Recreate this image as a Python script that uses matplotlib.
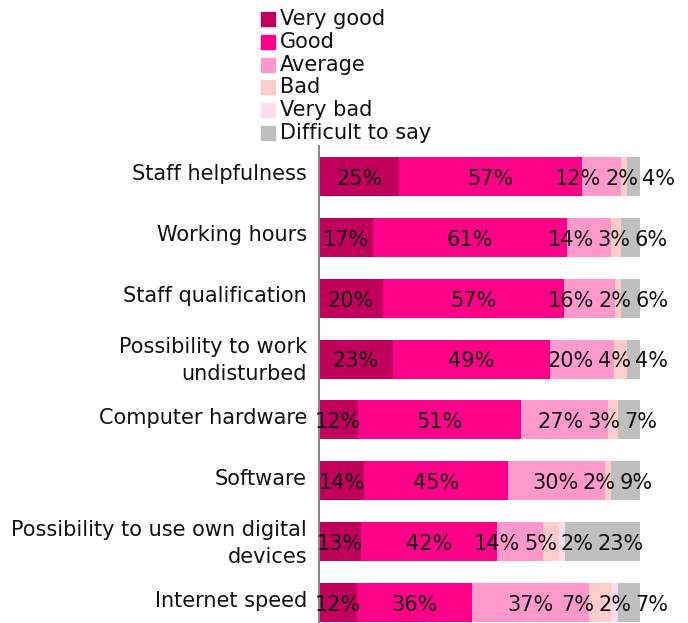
import matplotlib
matplotlib.use("Agg")
import matplotlib.pyplot as plt
from matplotlib.patches import Rectangle
from matplotlib.transforms import ScaledTranslation
import numpy as np

categories = [
    "Staff helpfulness",
    "Working hours",
    "Staff qualification",
    "Possibility to work\nundisturbed",
    "Computer hardware",
    "Software",
    "Possibility to use own digital\ndevices",
    "Internet speed",
]
series_names = ["Very good", "Good", "Average", "Bad", "Very bad", "Difficult to say"]
very_good = [25, 17, 20, 23, 12, 14, 13, 12]
good = [57, 61, 57, 49, 51, 45, 42, 36]
average = [12, 14, 16, 20, 27, 30, 14, 37]
bad = [2, 3, 2, 4, 3, 2, 5, 7]
very_bad = [0, 0, 0, 0, 0, 0, 2, 2]
difficult = [4, 6, 6, 4, 7, 9, 23, 7]
colors = ["#C0005C", "#FF0088", "#FF99CC", "#FFCCCC", "#FFDDEE", "#BFBFBF"]

plt.rcParams['font.family'] = ['DejaVu Sans']
FS = 15

W, H = 688, 623
fig = plt.figure(figsize=(W / 100, H / 100), dpi=100)
ax_top_px, ax_bot_px = 146, 633
ax = fig.add_axes([319 / W, 1 - ax_bot_px / H, 321 / W, (ax_bot_px - ax_top_px) / H])

data = np.array([very_good, good, average, bad, very_bad, difficult], dtype=float)
totals = data.sum(axis=0)
norm = data / totals * 100
y = np.arange(len(categories))
left = np.zeros(len(categories))
texts = [[] for _ in categories]
for k, name in enumerate(series_names):
    ax.barh(y, norm[k], left=left, height=0.64, color=colors[k], label=name)
    for i in range(len(categories)):
        if data[k, i] > 0:
            t = ax.text(left[i] + norm[k, i] / 2, y[i] + 0.04, f"{int(data[k, i])}%",
                        ha="center", va="center", fontsize=FS, color="#111111")
            texts[i].append(t)
    left += norm[k]

ax.set_xlim(0, 100)
ax.set_ylim(len(categories) - 0.5, -0.5)
ax.set_yticks(y)
ax.set_yticklabels(categories, fontsize=FS, color="#111111")
ax.tick_params(axis="y", length=0, pad=8.6)
up = ScaledTranslation(0, 0.04, fig.dpi_scale_trans)
for lab in ax.get_yticklabels():
    lab.set_linespacing(1.45)
    lab.set_transform(lab.get_transform() + up)
ax.set_xticks([])
for s in ["top", "right", "bottom"]:
    ax.spines[s].set_visible(False)
ax.spines["left"].set_color("#888888")
ax.spines["left"].set_linewidth(1.5)

# legend (manual)
for k, name in enumerate(series_names):
    yc = 19 + 22.8 * k
    fig.patches.append(Rectangle((261 / W, 1 - (yc + 7) / H), 14 / W, 14 / H,
                                 transform=fig.transFigure, color=colors[k]))
    fig.text(280 / W, 1 - yc / H, name, fontsize=FS, va="center", ha="left", color="#111111")

# resolve overlapping value labels
fig.canvas.draw()
r = fig.canvas.get_renderer()
inv = ax.transData.inverted()
gap = 4
for row in texts:
    bbs = [t.get_window_extent(r) for t in row]
    cx = [(b.x0 + b.x1) / 2 for b in bbs]
    w = [b.width for b in bbs]
    yp = [(b.y0 + b.y1) / 2 for b in bbs]
    for _ in range(300):
        moved = False
        for j in range(len(cx) - 1):
            ov = (cx[j] + w[j] / 2 + gap) - (cx[j + 1] - w[j + 1] / 2)
            if ov > 0.01:
                cx[j] -= ov / 2
                cx[j + 1] += ov / 2
                moved = True
        if not moved:
            break
    for t, c, yy in zip(row, cx, yp):
        xd, _ = inv.transform((c, yy))
        t.set_x(xd)

fig.savefig("out.png", dpi=100)
